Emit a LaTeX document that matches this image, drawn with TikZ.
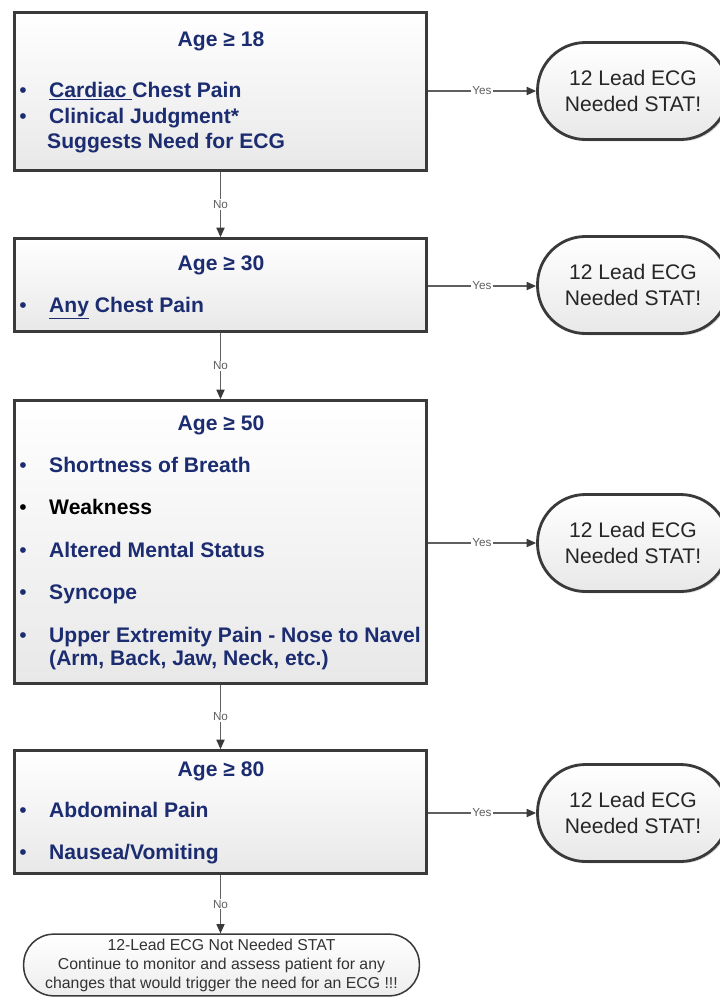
\documentclass[tikz,border=0pt]{standalone}
\usepackage{fontspec}
\setmainfont{Liberation Sans}
\usepackage{xcolor}
\usetikzlibrary{positioning,arrows.meta,shadows}
\definecolor{navy}{RGB}{28,44,112}
\definecolor{edgegray}{RGB}{58,58,58}
\definecolor{linegray}{RGB}{95,95,95}

\begin{document}
\begin{tikzpicture}[x=0.03cm, y=-0.03cm, font=\fontsize{18}{21.5}\selectfont,
    agebox/.style={draw=edgegray, line width=2.4pt, top color=white, bottom color=black!9,
      drop shadow={shadow xshift=1.5pt, shadow yshift=-1.5pt, opacity=0.35}, minimum width=12.36cm, inner sep=0pt},
    stat/.style={draw=edgegray, line width=2.4pt, top color=white, bottom color=black!9, rounded corners=1.44cm,
      drop shadow={shadow xshift=1.5pt, shadow yshift=-1.5pt, opacity=0.3}, minimum width=5.73cm, minimum height=2.91cm,
      align=center, text=black!85},
    flow/.style={draw=linegray, line width=0.9pt, -{Triangle[length=8pt, width=7pt, color=edgegray]}},
    lab/.style={font=\fontsize{10}{11}\selectfont, text=linegray, fill=white, inner sep=1pt},
    item/.style={anchor=mid west, inner sep=0pt, font=\fontsize{18}{21.5}\selectfont\bfseries},
    dot/.style={anchor=mid, inner sep=0pt}]
  \useasboundingbox (0,0) rectangle (719,998);

  % age boxes
  \node[agebox, minimum height=4.74cm] (b1) at (220.5,91.5) {};
  \node[agebox, minimum height=2.79cm] (b2) at (220.5,285) {};
  \node[agebox, minimum height=8.49cm] (b3) at (220.5,542) {};
  \node[agebox, minimum height=3.69cm] (b4) at (220.5,812) {};

  % titles
  \foreach \y/\age in {43/18,267/30,427/50,773/80}{\node[item, anchor=mid, text=navy] (age\age) at (221,\y) {Age ≥ \age};}

  % bullets
  \foreach \y/\c in {94/navy,120/navy,309/navy,469/navy,511/black,554/navy,596/navy,639/navy,814/navy,856/navy}{\node[dot, text=\c] (dot\y) at (23,\y) {•};}

  % items
  \foreach \y/\c/\txt in {94/navy/{\underline{Cardiac }Chest Pain},120/navy/{Clinical Judgment*},309/navy/{\underline{Any} Chest Pain},
      469/navy/{Shortness of Breath},511/black/{Weakness},554/navy/{Altered Mental Status},596/navy/{Syncope},
      639/navy/{Upper Extremity Pain - Nose to Navel},662/navy/{(Arm, Back, Jaw, Neck, etc.)},
      814/navy/{Abdominal Pain},856/navy/{Nausea/Vomiting}}{\node[item, text=\c] (item\y) at (49,\y) {\txt};}
  \node[item, text=navy] (item145) at (47,145) {Suggests Need for ECG};

  % stat terminals
  \node[stat] (t1) at (633,91) {12 Lead ECG\\Needed STAT!};
  \node[stat] (t2) at (633,285) {12 Lead ECG\\Needed STAT!};
  \node[stat] (t3) at (633,543) {12 Lead ECG\\Needed STAT!};
  \node[stat] (t4) at (633,813) {12 Lead ECG\\Needed STAT!};

  % end terminal
  \node[draw=edgegray, line width=1.3pt, top color=white, bottom color=black!7, rounded corners=0.9cm,
    minimum width=11.87cm, minimum height=1.85cm, align=center, text=black!80,
    font=\fontsize{13.5}{16.2}\selectfont] (done) at (221.5,965)
    {12-Lead ECG Not Needed STAT\\Continue to monitor and assess patient for any\\changes that would trigger the need for an ECG !!!};

  % yes arrows
  \draw[flow] (b1.east |- 0,91) -- node[lab] {Yes} (t1.west |- 0,91);
  \draw[flow] (b2.east |- 0,286) -- node[lab] {Yes} (t2.west |- 0,286);
  \draw[flow] (b3.east |- 0,543) -- node[lab] {Yes} (t3.west |- 0,543);
  \draw[flow] (b4.east |- 0,813) -- node[lab] {Yes} (t4.west |- 0,813);

  % no arrows
  \draw[flow] (b1.south) -- node[lab] {No} (b2.north);
  \draw[flow] (b2.south) -- node[lab] {No} (b3.north);
  \draw[flow] (b3.south) -- node[lab] {No} (b4.north);
  \draw[flow] (b4.south) -- node[lab] {No} (b4.south |- done.north);
\end{tikzpicture}
\end{document}
